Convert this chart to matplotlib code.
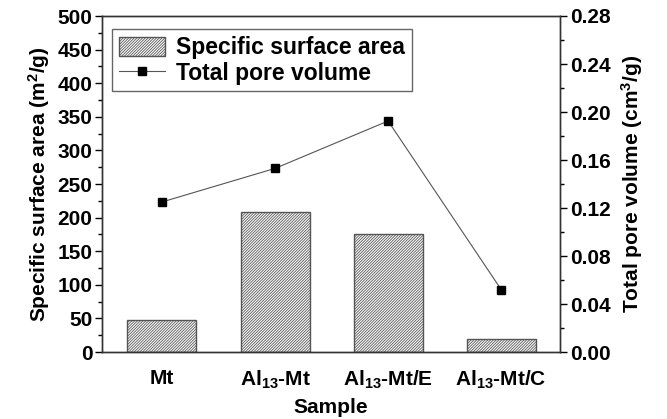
import matplotlib
matplotlib.use("Agg")
import matplotlib.pyplot as plt
from matplotlib.ticker import MultipleLocator, FormatStrFormatter

plt.rcParams['font.family'] = ['Liberation Sans', 'DejaVu Sans']
plt.rcParams['font.weight'] = 'bold'
plt.rcParams['mathtext.fontset'] = 'custom'
plt.rcParams['mathtext.bf'] = 'Liberation Sans:bold'
plt.rcParams['mathtext.rm'] = 'Liberation Sans:bold'
plt.rcParams['mathtext.default'] = 'bf'
plt.rcParams['hatch.linewidth'] = 0.6
plt.rcParams['hatch.color'] = '#6a6a6a'

samples = ['Mt', 'Al$_{13}$-Mt', 'Al$_{13}$-Mt/E', 'Al$_{13}$-Mt/C']
surface_area = [47, 209, 176, 20]
pore_volume = [0.125, 0.153, 0.1925, 0.052]

TICK_FS = 15
LAB_FS = 15
LEG_FS = 16.5

fig = plt.figure(figsize=(6.67, 4.19), dpi=100)
ax = fig.add_axes([102/667, 1-352/419, (560-102)/667, (352-16)/419])
x = list(range(len(samples)))
bars = ax.bar(x, surface_area, width=0.61, color='white', edgecolor='#555555',
              linewidth=1.0, hatch='////////////', label='Specific surface area')
ax.set_xlim(-0.53, 3.52)
ax.set_ylim(0, 500)
ax.yaxis.set_major_locator(MultipleLocator(50))
ax.yaxis.set_minor_locator(MultipleLocator(25))
ax.set_xticks(x)
ax.set_xticklabels(samples, fontsize=TICK_FS, fontweight='bold')
ax.tick_params(axis='x', length=0, pad=12)
ax.tick_params(axis='y', which='major', direction='out', length=5, width=1, labelsize=TICK_FS, pad=2)
ax.tick_params(axis='y', which='minor', direction='out', length=3, width=1)
for lab in ax.get_yticklabels():
    lab.set_fontweight('bold')
ax.set_xlabel('Sample', fontsize=LAB_FS, fontweight='bold', labelpad=5)
ax.set_ylabel('Specific surface area (m$^2$/g)', fontsize=LAB_FS, fontweight='bold', labelpad=4)
for s in ax.spines.values():
    s.set_color('#333333')
    s.set_linewidth(1.0)

ax2 = ax.twinx()
line, = ax2.plot(x, pore_volume, color='#555555', linewidth=0.8, marker='s',
                 markersize=5.5, markerfacecolor='black', markeredgecolor='black',
                 label='Total pore volume')
ax2.set_ylim(0, 0.28)
ax2.yaxis.set_major_locator(MultipleLocator(0.04))
ax2.yaxis.set_minor_locator(MultipleLocator(0.02))
ax2.yaxis.set_major_formatter(FormatStrFormatter('%.2f'))
ax2.tick_params(axis='y', which='major', direction='out', length=5, width=1, labelsize=TICK_FS, pad=2)
ax2.tick_params(axis='y', which='minor', direction='out', length=3, width=1)
for lab in ax2.get_yticklabels():
    lab.set_fontweight('bold')
ax2.set_ylabel('Total pore volume (cm$^3$/g)', fontsize=LAB_FS, fontweight='bold', labelpad=6)
for s in ax2.spines.values():
    s.set_color('#333333')
    s.set_linewidth(1.0)

leg = ax.legend([bars, line], ['Specific surface area', 'Total pore volume'],
                loc='upper left', bbox_to_anchor=(0.022, 0.96), fancybox=False,
                edgecolor='#666666', framealpha=1, prop={'size': LEG_FS, 'weight': 'bold'},
                handlelength=2.0, handleheight=0.9, borderpad=0.3, labelspacing=0.1,
                handletextpad=0.5, borderaxespad=0)
leg.get_frame().set_linewidth(1.0)

fig.savefig('out.png', dpi=100)
